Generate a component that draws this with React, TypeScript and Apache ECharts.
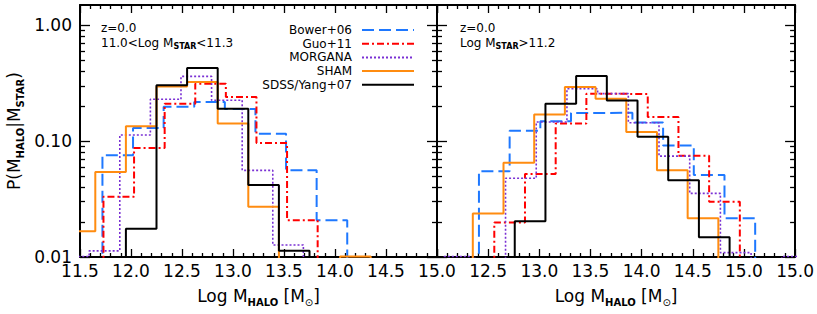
import React, { useEffect, useRef } from 'react';
import * as echarts from 'echarts';

const FONT = 'DejaVu Sans';
const TICKC = '#000000';

const leftXTicks = [11.5, 12.0, 12.5, 13.0, 13.5, 14.0, 14.5, 15.0];
const leftXLabels = ['11.5', '12.0', '12.5', '13.0', '13.5', '14.0', '14.5', '15.0'];
const rightXTicks = [12.0, 12.5, 13.0, 13.5, 14.0, 14.5, 15.0, 15.5];
const rightXLabels = ['', '12.5', '13.0', '13.5', '14.0', '14.5', '15.0', '15.0'];
const yTickValues = [0.01, 0.1, 1];
const yTickLabels = ['0.01', '0.10', '1.00'];
const yMinorTicks = [0.02, 0.03, 0.04, 0.05, 0.06, 0.07, 0.08, 0.09, 0.2, 0.3, 0.4, 0.5, 0.6, 0.7, 0.8, 0.9];

const seriesNames = ['Bower+06', 'Guo+11', 'MORGANA', 'SHAM', 'SDSS/Yang+07'];

// left panel: 11.0 < Log Mstar < 11.3 (bin edges / values; 0 = empty bin)
const bowerLeftEdges = [11.72, 12.02, 12.32, 12.62, 12.92, 13.22, 13.52, 13.82, 14.12];
const bowerLeftValues = [0.0757, 0.130, 0.198, 0.218, 0.190, 0.116, 0.0562, 0.0208];
const guoLeftEdges = [11.73, 12.03, 12.33, 12.63, 12.93, 13.23, 13.53, 13.83];
const guoLeftValues = [0.0331, 0.0875, 0.211, 0.314, 0.241, 0.0966, 0.0208];
const morganaLeftEdges = [11.29, 11.59, 11.89, 12.19, 12.49, 12.79, 13.09, 13.39, 13.69];
const morganaLeftValues = [0.0101, 0.0113, 0.113, 0.230, 0.363, 0.226, 0.056, 0.0127];
const shamLeftEdges = [11.35, 11.65, 11.95, 12.25, 12.55, 12.85, 13.15, 13.45, 13.75, 14.05, 14.35];
const shamLeftValues = [0.0167, 0.0543, 0.1345, 0.297, 0.324, 0.142, 0.0272, 0, 0, 0.0101];
const sdssLeftEdges = [11.95, 12.25, 12.55, 12.85, 13.15, 13.45, 13.75];
const sdssLeftValues = [0.0175, 0.304, 0.428, 0.191, 0.0418, 0.0113];

// right panel: Log Mstar > 11.2
const bowerRightEdges = [12.41, 12.71, 13.01, 13.31, 13.61, 13.91, 14.21, 14.51, 14.81, 15.11];
const bowerRightValues = [0.055, 0.123, 0.149, 0.175, 0.176, 0.145, 0.092, 0.051, 0.0216];
const guoRightEdges = [12.56, 12.86, 13.16, 13.46, 13.76, 14.06, 14.36, 14.66, 14.96];
const guoRightValues = [0.0199, 0.052, 0.142, 0.257, 0.255, 0.162, 0.0747, 0.030];
const morganaRightEdges = [12.07, 12.37, 12.67, 12.97, 13.27, 13.57, 13.87, 14.17, 14.47, 14.77, 15.07, 15.37, 15.67];
const morganaRightValues = [0.0101, 0, 0.0478, 0.1466, 0.284, 0.2576, 0.1445, 0.0743, 0.0354, 0.0109, 0, 0.0101];
const shamRightEdges = [12.35, 12.65, 12.95, 13.25, 13.55, 13.85, 14.15, 14.45, 14.75];
const shamRightValues = [0.0238, 0.065, 0.170, 0.294, 0.233, 0.120, 0.0562, 0.0216];
const sdssRightEdges = [12.76, 13.06, 13.36, 13.66, 13.96, 14.26, 14.56, 14.86];
const sdssRightValues = [0.0204, 0.211, 0.366, 0.225, 0.109, 0.0461, 0.0148];

const leftData: [number[], number[]][] = [
  [bowerLeftEdges, bowerLeftValues],
  [guoLeftEdges, guoLeftValues],
  [morganaLeftEdges, morganaLeftValues],
  [shamLeftEdges, shamLeftValues],
  [sdssLeftEdges, sdssLeftValues],
];
const rightData: [number[], number[]][] = [
  [bowerRightEdges, bowerRightValues],
  [guoRightEdges, guoRightValues],
  [morganaRightEdges, morganaRightValues],
  [shamRightEdges, shamRightValues],
  [sdssRightEdges, sdssRightValues],
];

const lineStyles: Record<string, any> = {
  'Bower+06': { color: '#1E78FF', width: 2, type: [12, 5] },
  'Guo+11': { color: '#FF0000', width: 2, type: [7, 3, 2, 3] },
  'MORGANA': { color: '#7A30D4', width: 1.6, type: [2, 2] },
  'SHAM': { color: '#FF8C10', width: 2, type: 'solid' },
  'SDSS/Yang+07': { color: '#000000', width: 2, type: 'solid' },
};

const FLOOR = 0.001; // below the axis floor (clipped)

function histPoints(edges: number[], values: number[]) {
  const pts: [number, number][] = [];
  pts.push([edges[0], FLOOR]);
  for (let i = 0; i < values.length; i++) {
    const v = values[i] > 0 ? values[i] : FLOOR;
    pts.push([edges[i], v]);
    pts.push([edges[i + 1], v]);
  }
  pts.push([edges[values.length], FLOOR]);
  return pts;
}

const rich = {
  n: { fontFamily: FONT, fontSize: 17, lineHeight: 22, color: '#000' },
  s: { fontFamily: FONT, fontSize: 10, fontWeight: 'bold', lineHeight: 14, verticalAlign: 'bottom', color: '#000' },
  o: { fontFamily: FONT, fontSize: 10, lineHeight: 14, verticalAlign: 'bottom', color: '#000' },
};
const smallRich = {
  n: { fontFamily: FONT, fontSize: 12, lineHeight: 15, color: '#000' },
  s: { fontFamily: FONT, fontSize: 8, fontWeight: 'bold', lineHeight: 11, verticalAlign: 'bottom', color: '#000' },
};

function mkX(gridIndex: number, ticks: number[], labels: string[] | null, position: string) {
  return {
    type: 'value',
    gridIndex,
    position,
    min: ticks[0],
    max: ticks[ticks.length - 1],
    interval: 0.5,
    axisLine: { show: true, onZero: false, lineStyle: { color: '#000', width: 2 } },
    axisTick: { show: true, inside: true, length: 8, lineStyle: { color: TICKC, width: 1.3 } },
    minorTick: { show: true, splitNumber: 5, length: 4, lineStyle: { color: TICKC, width: 1.3 } },
    splitLine: { show: false },
    minorSplitLine: { show: false },
    axisLabel: labels
      ? {
          show: true,
          margin: 5,
          showMinLabel: true,
          showMaxLabel: true,
          hideOverlap: false,
          fontFamily: FONT,
          fontSize: 17,
          color: '#000',
          formatter: (v: number) => {
            const i = ticks.findIndex((t) => Math.abs(t - v) < 1e-6);
            return i >= 0 ? labels[i] : '';
          },
        }
      : { show: false },
    name: labels ? '{n|Log M}{s|HALO}{n| [M}{o|⊙}{n|]}' : '',
    nameLocation: 'middle',
    nameGap: 28,
    nameTextStyle: { rich },
  };
}

function mkY(gridIndex: number, position: string, major: boolean, labels: boolean) {
  return {
    type: 'log',
    logBase: 10,
    gridIndex,
    position,
    min: 0.01,
    max: 1.5,
    axisLine: { show: major, onZero: false, lineStyle: { color: '#000', width: 2 } },
    axisTick: {
      show: true,
      inside: true,
      length: major ? 10 : 5,
      customValues: major ? yTickValues : yMinorTicks,
      lineStyle: { color: TICKC, width: 1.3 },
    },
    minorTick: { show: false },
    splitLine: { show: false },
    axisLabel: labels
      ? {
          show: true,
          customValues: yTickValues,
          margin: 8,
          fontFamily: FONT,
          fontSize: 17,
          color: '#000',
          formatter: (v: number) => {
            const i = yTickValues.findIndex((t) => Math.abs(Math.log10(t) - Math.log10(v)) < 1e-6);
            return i >= 0 ? yTickLabels[i] : '';
          },
        }
      : { show: false },
    name: labels ? '{n|P(M}{s|HALO}{n||M}{s|STAR}{n|)}' : '',
    nameLocation: 'middle',
    nameRotate: 90,
    nameGap: 55,
    nameTextStyle: { rich },
  };
}

function buildOption() {
  const series: any[] = [];
  const addPanel = (data: [number[], number[]][], xIdx: number, yIdx: number) => {
    data.forEach(([edges, values], k) => {
      const name = seriesNames[k];
      const ls = lineStyles[name];
      series.push({
        type: 'line',
        name,
        xAxisIndex: xIdx,
        yAxisIndex: yIdx,
        data: histPoints(edges, values),
        symbol: 'none',
        showSymbol: false,
        clip: true,
        color: ls.color,
        lineStyle: { color: ls.color, width: ls.width, type: ls.type },
        itemStyle: { color: ls.color },
        emphasis: { disabled: true },
        silent: true,
      });
    });
  };
  addPanel(leftData, 0, 0);
  addPanel(rightData, 2, 4);

  return {
    animation: false,
    backgroundColor: '#fff',
    grid: [
      { left: 80, top: 5, width: 357, height: 252 },
      { left: 437, top: 5, width: 360, height: 252 },
    ],
    xAxis: [
      mkX(0, leftXTicks, leftXLabels, 'bottom'),
      mkX(0, leftXTicks, null, 'top'),
      mkX(1, rightXTicks, rightXLabels, 'bottom'),
      mkX(1, rightXTicks, null, 'top'),
    ],
    yAxis: [
      mkY(0, 'left', true, true),
      mkY(0, 'left', false, false),
      mkY(0, 'right', true, false),
      mkY(0, 'right', false, false),
      mkY(1, 'left', true, false),
      mkY(1, 'left', false, false),
      mkY(1, 'right', true, false),
      mkY(1, 'right', false, false),
    ],
    legend: {
      data: seriesNames,
      orient: 'vertical',
      align: 'right',
      right: 402,
      top: 24,
      padding: 0,
      itemGap: 1.7,
      itemWidth: 52,
      itemHeight: 10,
      selectedMode: false,
      itemStyle: { opacity: 0, color: 'rgba(0,0,0,0)', borderWidth: 0 },
      textStyle: { fontFamily: FONT, fontSize: 12, color: '#000', lineHeight: 12, height: 12, padding: [0, 5, 0, 0] },
    },
    graphic: [
      { type: 'text', x: 101, y: 28, style: { text: '{n|z=0.0}', rich: smallRich, verticalAlign: 'middle' } },
      { type: 'text', x: 101, y: 43, style: { text: '{n|11.0<Log M}{s|STAR}{n|<11.3}', rich: smallRich, verticalAlign: 'middle' } },
      { type: 'text', x: 460, y: 28, style: { text: '{n|z=0.0}', rich: smallRich, verticalAlign: 'middle' } },
      { type: 'text', x: 460, y: 43, style: { text: '{n|Log M}{s|STAR}{n|>11.2}', rich: smallRich, verticalAlign: 'middle' } },
    ],
    series,
  };
}

export default function App() {
  const ref = useRef<HTMLDivElement>(null);
  useEffect(() => {
    if (!ref.current) return;
    const chart = echarts.init(ref.current, null, { renderer: 'svg' });
    chart.setOption(buildOption() as any);
    return () => chart.dispose();
  }, []);
  return (
    <div
      ref={ref}
      style={{ position: 'absolute', left: 0, top: 0, width: 817, height: 314, background: '#fff' }}
    />
  );
}
